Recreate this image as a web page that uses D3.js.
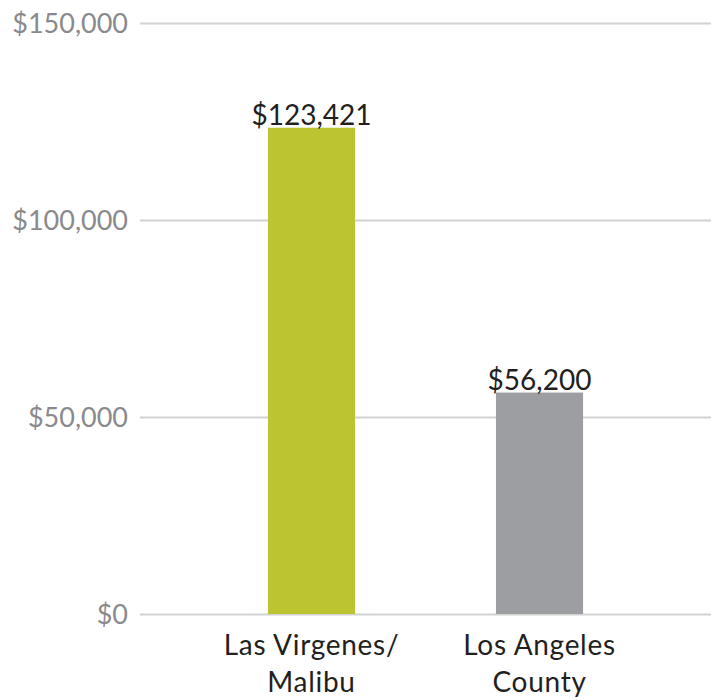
<!DOCTYPE html>
<html>
<head>
<meta charset="utf-8">
<script src="https://cdn.jsdelivr.net/npm/d3@7"></script>
<style>
  html, body { margin: 0; padding: 0; background: #fff; }
  svg { display: block; }
  text { font-family: Lato, "Open Sans", sans-serif; }
</style>
</head>
<body>
<svg id="chart" width="718" height="700"></svg>
<script>
// Median household income
const categories = ["Las Virgenes/\nMalibu", "Los Angeles\nCounty"];
const values = [123421, 56200];
const barColors = ["#bcc431", "#9d9ea2"];
const tickValues = [0, 50000, 100000, 150000];

const svg = d3.select("#chart");
const margin = { left: 140, right: 7, top: 23, bottom: 86 };
const width = 718, height = 700;

const x = d3.scaleBand()
  .domain(categories)
  .range([margin.left, width - margin.right])
  .paddingInner(0.618)
  .paddingOuter(0.561);

const y = d3.scaleLinear()
  .domain([0, 150000])
  .range([height - margin.bottom, margin.top]);

const money = d3.format("$,");

// gridlines + y labels
const yAxis = d3.axisLeft(y)
  .tickValues(tickValues)
  .tickFormat(money)
  .tickSize(-(width - margin.left - margin.right))
  .tickPadding(12);

const gy = svg.append("g")
  .attr("transform", `translate(${margin.left},0)`)
  .call(yAxis);
gy.select(".domain").remove();
gy.selectAll(".tick line").attr("stroke", "#d2d2d2").attr("stroke-width", 2);
gy.selectAll(".tick text")
  .attr("fill", "#8a8a8d")
  .attr("font-size", 27)
  .attr("dy", "0.36em");

// bars
svg.append("g").selectAll("rect")
  .data(values)
  .join("rect")
  .attr("x", (d, i) => x(categories[i]))
  .attr("width", x.bandwidth())
  .attr("y", d => y(d))
  .attr("height", d => y(0) - y(d))
  .attr("fill", (d, i) => barColors[i]);

// value labels
svg.append("g").selectAll("text")
  .data(values)
  .join("text")
  .attr("x", (d, i) => x(categories[i]) + x.bandwidth() / 2)
  .attr("y", d => y(d) - 3)
  .attr("text-anchor", "middle")
  .attr("fill", "#231f20")
  .attr("font-size", 28)
  .text(d => money(d));

// category labels
const cat = svg.append("g").selectAll("text")
  .data(categories)
  .join("text")
  .attr("text-anchor", "middle")
  .attr("fill", "#231f20")
  .attr("font-size", 28)
  .attr("letter-spacing", 0.7)
  .attr("x", d => x(d) + x.bandwidth() / 2)
  .attr("y", 655);
cat.each(function(d) {
  const t = d3.select(this);
  d.split("\n").forEach((line, i) => {
    t.append("tspan")
      .attr("x", x(d) + x.bandwidth() / 2)
      .attr("dy", i === 0 ? 0 : 37)
      .text(line);
  });
});
</script>
</body>
</html>
